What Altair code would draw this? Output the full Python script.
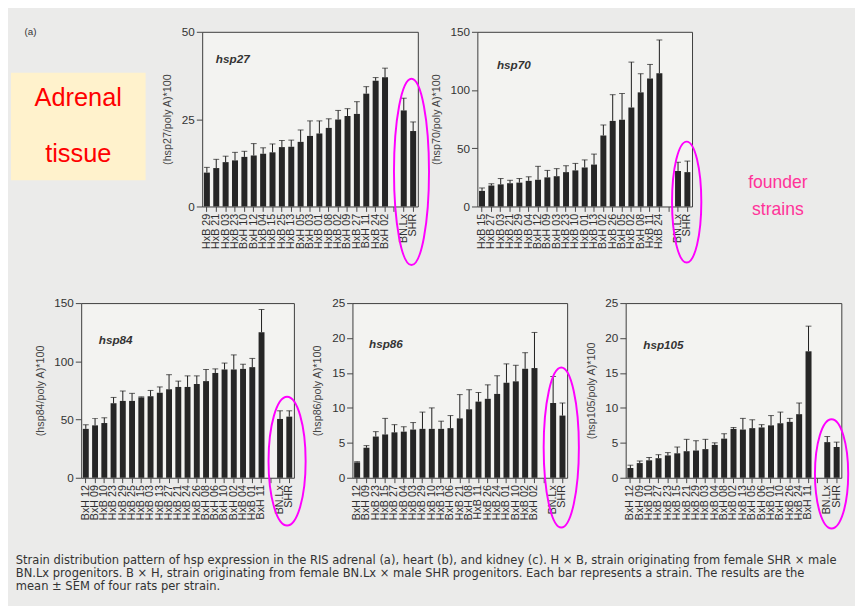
import altair as alt
import pandas as pd

FOUNDERS = ["BN.Lx", "SHR"]

# ---------------- hsp27 ----------------
hsp27_strains = ["HxB 29", "HxB 21", "HxB 03", "HxB 23", "BxH 10", "BxH 12", "HxB 04", "HxB 15",
                 "HxB 25", "HxB 13", "BxH 05", "BxH 03", "HxB 01", "HxB 08", "HxB 02", "BxH 09",
                 "HxB 27", "BxH 11", "HxB 24", "BxH 02"]
hsp27_mean = [9.7, 11.0, 12.7, 13.2, 14.2, 14.6, 15.1, 15.5, 17.0, 17.1,
              18.5, 20.2, 20.9, 22.5, 24.9, 25.9, 26.5, 32.3, 36.0, 37.0]
hsp27_upper = [11.2, 13.5, 14.4, 15.5, 15.8, 18.0, 16.8, 17.9, 18.9, 19.0,
               21.9, 24.5, 24.5, 25.1, 27.5, 28.0, 30.0, 34.3, 36.9, 39.6]
hsp27_f_mean = [27.5, 21.6]
hsp27_f_upper = [31.0, 24.2]

# ---------------- hsp70 ----------------
hsp70_strains = ["HxB 15", "HxB 27", "HxB 03", "HxB 21", "HxB 29", "HxB 04", "BxH 12", "BxH 09",
                 "BxH 03", "HxB 23", "HxB 10", "HxB 01", "HxB 13", "BxH 02", "HxB 26", "BxH 05",
                 "HxB 02", "BxH 08", "HxB 11", "HxB 24"]
hsp70_mean = [13.4, 18.0, 19.0, 20.0, 20.5, 22.0, 23.0, 25.0, 26.0, 29.5,
              31.0, 33.5, 36.0, 61.0, 73.5, 74.5, 85.0, 98.0, 110.0, 114.5]
hsp70_upper = [15.9, 19.5, 24.0, 22.5, 24.0, 25.5, 34.5, 31.0, 32.5, 35.0,
               37.0, 40.0, 45.0, 70.0, 96.0, 97.0, 124.0, 114.0, 122.0, 143.0]
hsp70_f_mean = [30.5, 29.5]
hsp70_f_upper = [38.0, 39.0]

# ---------------- hsp84 ----------------
hsp84_strains = ["BxH 12", "BxH 09", "HxB 10", "HxB 23", "HxB 29", "HxB 25", "HxB 15", "HxB 03",
                 "HxB 13", "HxB 27", "HxB 21", "HxB 24", "HxB 26", "BxH 08", "BxH 06", "BxH 10",
                 "BxH 02", "HxB 04", "HxB 01", "BxH 11"]
hsp84_mean = [42.0, 45.0, 47.0, 64.0, 66.0, 66.0, 69.0, 70.0, 73.0, 76.0,
              78.0, 78.0, 80.5, 83.0, 90.0, 93.0, 93.0, 93.5, 95.0, 125.0]
hsp84_upper = [45.5, 51.0, 51.5, 69.0, 74.5, 72.5, 69.5, 75.0, 78.0, 88.5,
               83.0, 87.5, 87.5, 93.0, 93.5, 98.5, 105.5, 97.5, 102.5, 144.5]
hsp84_f_mean = [50.5, 52.5]
hsp84_f_upper = [57.5, 57.5]

# ---------------- hsp86 ----------------
hsp86_strains = ["BxH 12", "BxH 09", "HxB 23", "HxB 15", "HxB 27", "HxB 04", "HxB 03", "HxB 29",
                 "HxB 10", "HxB 13", "BxH 06", "HxB 21", "BxH 08", "HxB 11", "HxB 26", "HxB 24",
                 "HxB 01", "BxH 10", "HxB 02", "BxH 02"]
hsp86_mean = [2.2, 4.3, 5.9, 6.2, 6.5, 6.6, 6.9, 7.0, 7.0, 7.0,
              7.1, 8.5, 9.8, 10.9, 11.3, 12.0, 13.6, 13.8, 15.6, 15.7]
hsp86_upper = [2.3, 4.6, 6.6, 8.5, 7.6, 7.3, 7.9, 9.4, 10.0, 8.1,
               8.9, 11.9, 12.6, 12.2, 13.3, 14.6, 16.3, 16.1, 17.9, 20.8]
hsp86_f_mean = [10.7, 8.9]
hsp86_f_upper = [14.5, 10.7]

# ---------------- hsp105 ----------------
hsp105_strains = ["BxH 12", "BxH 09", "HxB 10", "HxB 27", "HxB 23", "HxB 15", "HxB 21", "HxB 29",
                  "HxB 03", "HxB 04", "BxH 08", "HxB 02", "HxB 13", "BxH 05", "BxH 06", "HxB 01",
                  "BxH 10", "HxB 26", "HxB 24", "BxH 11"]
hsp105_mean = [1.4, 2.1, 2.5, 2.8, 3.2, 3.5, 3.8, 3.9, 4.1, 4.7,
               5.6, 7.0, 6.9, 7.1, 7.2, 7.5, 7.8, 8.0, 9.1, 18.1]
hsp105_upper = [1.8, 2.4, 2.9, 3.3, 3.6, 4.4, 5.5, 5.3, 5.5, 5.0,
                6.3, 7.2, 8.5, 8.3, 7.6, 8.9, 9.4, 8.5, 10.7, 21.7]
hsp105_f_mean = [5.1, 4.4]
hsp105_f_upper = [5.9, 5.1]

CAPTION = [
    "Strain distribution pattern of hsp expression in the RIS adrenal (a), heart (b), and kidney (c). H \u00d7 B, strain originating from female SHR \u00d7 male",
    "BN.Lx progenitors. B \u00d7 H, strain originating from female BN.Lx \u00d7 male SHR progenitors. Each bar represents a strain. The results are the",
    "mean \u00b1 SEM of four rats per strain.",
]

FONT = "Liberation Sans"
H = 179
ONE = pd.DataFrame({"k": [0]})
MAGENTA = "#ff00ff"


def ellipse_path(rx, ry):
    a = rx / ry
    return f"M0,-1 A{a:.3f},1 0 1,0 0,1 A{a:.3f},1 0 1,0 0,-1"


def panel(gene, strains, mean, upper, fmean, fupper, ymax, yvals, width, tpos, ell, extra=None):
    cats = strains + [" "] + FOUNDERS
    df = pd.DataFrame({"strain": strains + FOUNDERS,
                       "mean": mean + fmean,
                       "upper": upper + fupper})
    x = alt.X("strain:N", sort=cats,
              scale=alt.Scale(domain=cats, paddingInner=0.36, paddingOuter=0.18),
              axis=alt.Axis(title=None, labelAngle=270, labelFontSize=11, labelPadding=2,
                            tickSize=5, labelOverlap=False, labelColor="#2e2e2e",
                            labelFont=FONT, domain=False, tickColor="#444444"))
    yaxis = alt.Axis(values=yvals, title=f"({gene}/poly A)*100", titlePadding=9,
                     titleFontSize=11, titleFontWeight="normal", titleColor="#444444",
                     titleFont=FONT, labelFontSize=12, labelColor="#333333", labelFont=FONT,
                     tickSize=6, labelPadding=2, grid=False, domain=False, tickColor="#444444")
    yscale = alt.Scale(domain=[0, ymax], nice=False)
    base = alt.Chart(df)
    bars = base.mark_bar(color="#262626").encode(
        x=x, y=alt.Y("mean:Q", scale=yscale, axis=yaxis))
    rules = base.mark_rule(color="#1a1a1a", strokeWidth=1).encode(
        x=x, y=alt.Y("mean:Q", scale=yscale, axis=yaxis), y2="upper:Q")
    caps = base.mark_tick(color="#1a1a1a", size=6, thickness=1, orient="horizontal").encode(
        x=x, y=alt.Y("upper:Q", scale=yscale, axis=yaxis))
    title = alt.Chart(pd.DataFrame({"t": [gene]})).mark_text(
        align="left", baseline="middle", fontSize=12, fontStyle="italic", fontWeight="bold",
        font=FONT, color="#333333").encode(
        x=alt.value(tpos[0]), y=alt.value(tpos[1]), text="t:N")
    cx, cy, rx, ry = ell
    ellipse = alt.Chart(ONE).mark_point(
        shape=ellipse_path(rx, ry), size=(2 * ry) ** 2, filled=False, color=MAGENTA,
        strokeWidth=2, opacity=1).encode(x=alt.value(cx), y=alt.value(cy))
    layers = [bars, rules, caps, title, ellipse]
    if extra is not None:
        layers += extra
    return alt.layer(*layers).properties(width=width, height=H)


founder_text = [
    alt.Chart(pd.DataFrame({"t": [t]})).mark_text(
        fontSize=18, font=FONT, color="#ff3399", align="center", baseline="middle").encode(
        x=alt.value(308), y=alt.value(yy), text="t:N")
    for t, yy in [("founder", 155), ("strains", 183)]
]

p27 = panel("hsp27", hsp27_strains, hsp27_mean, hsp27_upper, hsp27_f_mean, hsp27_f_upper,
            50, [0, 25, 50], 221, (14, 28), (214.5, 143.5, 18, 95.5))
p70 = panel("hsp70", hsp70_strains, hsp70_mean, hsp70_upper, hsp70_f_mean, hsp70_f_upper,
            150, [0, 50, 100, 150], 220, (20, 34), (214.5, 174.5, 15, 62), extra=founder_text)
p84 = panel("hsp84", hsp84_strains, hsp84_mean, hsp84_upper, hsp84_f_mean, hsp84_f_upper,
            150, [0, 50, 100, 150], 218, (18, 38), (211, 162, 19, 66))
p86 = panel("hsp86", hsp86_strains, hsp86_mean, hsp86_upper, hsp86_f_mean, hsp86_f_upper,
            25, [0, 5, 10, 15, 20, 25], 220, (17, 42), (214, 148, 18, 82))
p105 = panel("hsp105", hsp105_strains, hsp105_mean, hsp105_upper, hsp105_f_mean, hsp105_f_upper,
             25, [0, 5, 10, 15, 20, 25], 221, (18, 43), (211, 175, 17, 56))

clear_view = alt.ViewBackground(fill="transparent", stroke="transparent")

# invisible anchor that fixes the top edge of the whole drawing
anchor = alt.Chart(ONE).mark_rect(color="transparent").encode(
    x=alt.value(0), x2=alt.value(2), y=alt.value(-16), y2=alt.value(0))
adrenal_box = alt.Chart(ONE).mark_rect(color="#fff2cc").encode(
    x=alt.value(0), x2=alt.value(138), y=alt.value(42), y2=alt.value(152))
adrenal_texts = [
    alt.Chart(pd.DataFrame({"t": [t]})).mark_text(
        fontSize=26, font=FONT, color="#ff0000", align="center", baseline="middle").encode(
        x=alt.value(69), y=alt.value(yy), text="t:N")
    for t, yy in [("Adrenal", 68), ("tissue", 125)]
]
panel_tag = alt.Chart(pd.DataFrame({"t": ["(a)"]})).mark_text(
    fontSize=10, font=FONT, color="#333333", align="center", baseline="middle").encode(
    x=alt.value(20), y=alt.value(0), text="t:N")
spacer_a = alt.layer(anchor, adrenal_box, *adrenal_texts, panel_tag).properties(
    width=135, height=H, view=clear_view)

spacer_b = alt.Chart(ONE).mark_rect(opacity=0).encode(
    x=alt.value(0), x2=alt.value(1), y=alt.value(0), y2=alt.value(1)).properties(
    width=12, height=H, view=clear_view)

# caption row sits one row-step below the bottom row; its text is
# drawn upward from the row top with negative offsets
caption_layers = [
    alt.Chart(pd.DataFrame({"t": [line]})).mark_text(
        fontSize=11.8, font="DejaVu Sans", color="#333333", align="left", baseline="middle").encode(
        x=alt.value(5), y=alt.value(yy), text="t:N")
    for line, yy in zip(CAPTION, [-15, -1.5, 12])
]
caption = alt.hconcat(
    alt.layer(*caption_layers).properties(width=840, height=20, view=clear_view),
    bounds="flush")

top_row = alt.hconcat(spacer_a, p27, p70, spacing=61, bounds="flush")
bottom_row = alt.hconcat(spacer_b, p84, p86, p105, spacing=60, bounds="flush")

chart = alt.vconcat(top_row, bottom_row, caption, spacing=278, bounds="flush").properties(
    padding={"left": 2, "top": 0, "right": 2, "bottom": 4},
    background="#ebebea",
).configure_view(
    fill="#f3f3f1", stroke="#3a3a3a", strokeWidth=1
).configure_axis(
    grid=False
)

chart.save("out.html", embed_options={"renderer": "svg", "actions": False})
